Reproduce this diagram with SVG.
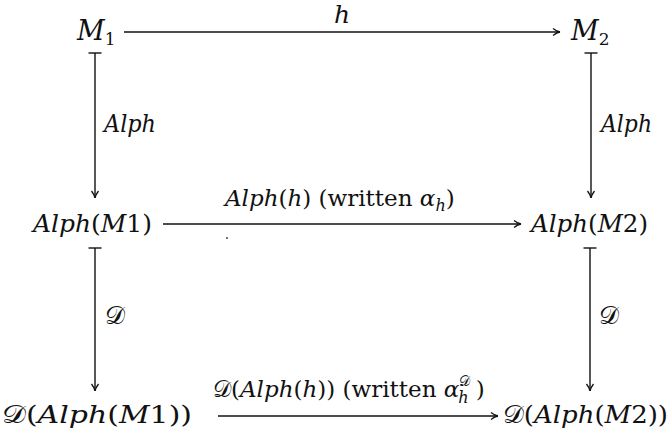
<svg xmlns="http://www.w3.org/2000/svg" width="669" height="437" viewBox="0 0 669 437" font-family="'DejaVu Serif', serif" font-size="25">
<style>
text{fill:#111}
.i{font-style:italic}
.s{font-size:17px}
.c{font-style:normal}
.lb{font-size:23px}
.ln{stroke:#111;stroke-width:1.4;fill:none}
</style>
<defs>
<marker id="ah" markerWidth="12" markerHeight="10" refX="10" refY="5" orient="auto" markerUnits="userSpaceOnUse">
<path d="M3,1.5 Q7,4.6 10,5 Q7,5.4 3,8.5" fill="none" stroke="#111" stroke-width="1.3"/>
</marker>
<marker id="bar" markerWidth="4" markerHeight="16" refX="2" refY="8" orient="auto" markerUnits="userSpaceOnUse">
<path d="M2,1.5 V14.5" stroke="#111" stroke-width="1.4"/>
</marker>
</defs>
<rect width="669" height="437" fill="#fff"/>
<g id="connectors">
<path class="ln" d="M124,32 H560" marker-end="url(#ah)"/>
<text class="i" x="334" y="23">h</text>
<path class="ln" d="M95,53 V198" marker-start="url(#bar)" marker-end="url(#ah)"/>
<text class="i" x="104" y="132" textLength="52" lengthAdjust="spacingAndGlyphs">Alph</text>
<path class="ln" d="M591,53 V198" marker-start="url(#bar)" marker-end="url(#ah)"/>
<text class="i" x="601" y="132" textLength="51" lengthAdjust="spacingAndGlyphs">Alph</text>
<path class="ln" d="M163,224 H521" marker-end="url(#ah)"/>
<text class="lb" x="225" y="206"><tspan class="i">Alph</tspan>(<tspan class="i">h</tspan>) (written <tspan class="i">α</tspan><tspan class="i" font-size="16" dy="5">h</tspan><tspan dy="-5">)</tspan></text>
<path class="ln" d="M95,248 V391" marker-start="url(#bar)" marker-end="url(#ah)"/>
<text class="c" x="105" y="324">𝒟</text>
<path class="ln" d="M590,248 V391" marker-start="url(#bar)" marker-end="url(#ah)"/>
<text class="c" x="599" y="324">𝒟</text>
<path class="ln" d="M218,416 H498" marker-end="url(#ah)"/>
<text class="lb" x="213" y="397"><tspan class="c">𝒟</tspan>(<tspan class="i">Alph</tspan>(<tspan class="i">h</tspan>)) (written <tspan class="i">α</tspan><tspan font-size="14" dy="-11">𝒟</tspan><tspan class="i" font-size="16" dx="-12" dy="17">h</tspan><tspan dx="7" dy="-6">)</tspan></text>
<circle cx="227" cy="238" r="0.9" fill="#333"/>
</g>
<g id="M1"><text x="77" y="40" font-size="27"><tspan class="i">M</tspan><tspan class="s" dy="5">1</tspan></text></g>
<g id="M2"><text x="571" y="40" font-size="27"><tspan class="i">M</tspan><tspan class="s" dy="5">2</tspan></text></g>
<g id="AlphM1"><text x="33" y="232" textLength="119" lengthAdjust="spacingAndGlyphs"><tspan class="i">Alph</tspan>(<tspan class="i">M</tspan>1)</text></g>
<g id="AlphM2"><text x="531" y="232" textLength="117" lengthAdjust="spacingAndGlyphs"><tspan class="i">Alph</tspan>(<tspan class="i">M</tspan>2)</text></g>
<g id="DAlphM1"><text x="2" y="423" textLength="190" lengthAdjust="spacingAndGlyphs"><tspan class="c">𝒟</tspan>(<tspan class="i">Alph</tspan>(<tspan class="i">M</tspan>1))</text></g>
<g id="DAlphM2"><text x="503" y="423" textLength="165" lengthAdjust="spacingAndGlyphs"><tspan class="c">𝒟</tspan>(<tspan class="i">Alph</tspan>(<tspan class="i">M</tspan>2))</text></g>
</svg>
